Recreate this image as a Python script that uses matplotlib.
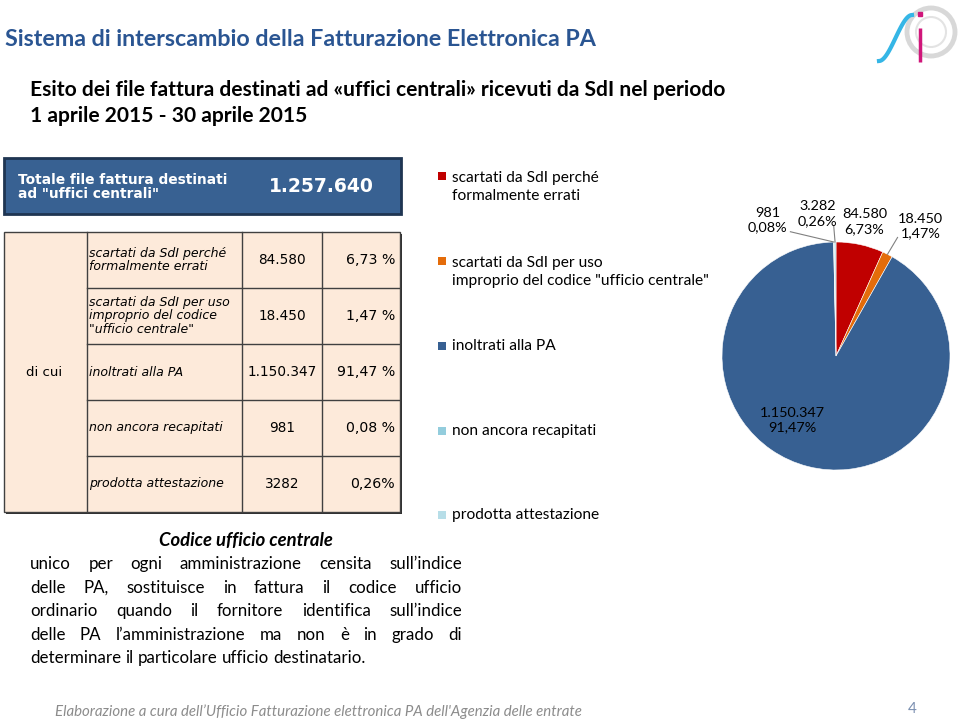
import numpy as np
import matplotlib
matplotlib.use('agg')
import matplotlib.pyplot as plt
from matplotlib.patches import Rectangle, Circle

# data
categories = ['scartati da SdI perché\nformalmente errati',
              'scartati da SdI per uso\nimproprio del codice "ufficio centrale"',
              'inoltrati alla PA',
              'non ancora recapitati',
              'prodotta attestazione']
row_labels = ['scartati da SdI perché\nformalmente errati',
              'scartati da SdI per uso\nimproprio del codice\n"ufficio centrale"',
              'inoltrati alla PA',
              'non ancora recapitati',
              'prodotta attestazione']
counts = [84580, 18450, 1150347, 981, 3282]
total = 1257640
table_counts = ['84.580', '18.450', '1.150.347', '981', '3282']
table_pct = ['6,73 %', '1,47 %', '91,47 %', '0,08 %', '0,26%']
colors = ['#C00000', '#E46C0A', '#376092', '#93CDDD', '#B7DEE8']

paragraph = ["unico per ogni amministrazione censita sull\u2019indice",
             "delle PA, sostituisce in fattura il codice ufficio",
             "ordinario quando il fornitore identifica sull\u2019indice",
             "delle PA l\u2019amministrazione ma non è in grado di",
             "determinare il particolare ufficio destinatario."]

SANS = ['Lato', 'DejaVu Sans']
TAB = ['DejaVu Sans']

fig = plt.figure(figsize=(9.59, 7.22), dpi=100)
ax = fig.add_axes([0, 0, 1, 1])
ax.set_xlim(0, 959)
ax.set_ylim(722, 0)
ax.axis('off')
renderer = fig.canvas.get_renderer()


def fit(t, width):
    # scale font so the text gets the wanted pixel width
    w = t.get_window_extent(renderer).width
    t.set_fontsize(t.get_fontsize() * width / w)


# titles
t = ax.text(5, 40, 'Sistema di interscambio della Fatturazione Elettronica PA', family=SANS,
            fontweight='bold', color='#2A5592', fontsize=16, va='center')
fit(t, 593)
t = ax.text(30, 90, 'Esito dei file fattura destinati ad «uffici centrali» ricevuti da SdI nel periodo',
            family=SANS, fontweight='bold', color='black', fontsize=14, va='center')
fit(t, 697)
ax.text(30, 116, '1 aprile 2015 - 30 aprile 2015', family=SANS, fontweight='bold',
        color='black', fontsize=t.get_fontsize(), va='center')

# header box
ax.add_patch(Rectangle((4, 158), 397, 56, facecolor='#386192', edgecolor='#1F3552', lw=2))
t = ax.text(18, 187, 'Totale file fattura destinati\nad "uffici centrali"', family=TAB, fontweight='bold',
            color='white', fontsize=9.9, va='center', linespacing=1.0)
ax.text(321, 187, f'{total:,}'.replace(',', '.'), family=TAB, fontweight='bold', color='white',
        fontsize=13.5, ha='center', va='center')

# table
x_cols = [4, 87, 242, 322, 400]
y_top, row_h = 232, 56
n = len(row_labels)
y_bot = y_top + n * row_h
ax.add_patch(Rectangle((5.5, y_top + 1.5), 396, n * row_h, facecolor='#303030', edgecolor='none'))
ax.add_patch(Rectangle((4, y_top), 396, n * row_h, facecolor='#FDEADA', edgecolor='#404040', lw=1))
for xc in x_cols[1:-1]:
    ax.plot([xc, xc], [y_top, y_bot], color='#404040', lw=1)
for i in range(1, n):
    ax.plot([x_cols[1], x_cols[-1]], [y_top + i * row_h] * 2, color='#404040', lw=1)
ax.text((x_cols[0] + x_cols[1]) / 2 - 1, y_top + 2.5 * row_h, 'di cui', family=TAB, fontsize=9.6,
        ha='center', va='center')
for i in range(n):
    yc = y_top + (i + 0.5) * row_h
    ax.text(x_cols[1] + 2, yc, row_labels[i], family=TAB, style='italic', fontsize=9,
            ha='left', va='center', linespacing=1.02)
    ax.text((x_cols[2] + x_cols[3]) / 2, yc, table_counts[i], family=TAB, fontsize=9.8,
            ha='center', va='center')
    ax.text(x_cols[4] - 5, yc, table_pct[i], family=TAB, fontsize=10.2, ha='right', va='center')

# legend
leg_y = [187, 272, 346, 431, 515]
for i in range(n):
    ax.add_patch(Rectangle((438, leg_y[i] - 15 if '\n' in categories[i] else leg_y[i] - 4), 8, 8,
                           facecolor=colors[i], edgecolor='none'))
    ax.text(452, leg_y[i], categories[i], family=SANS, fontsize=11.2, ha='left', va='center',
            linespacing=1.4)

# paragraph
t = ax.text(246, 540, 'Codice ufficio centrale', family=SANS, fontweight='bold', style='italic',
            fontsize=12, ha='center', va='center')
fit(t, 174)
x0, x1 = 30, 462
line_y = [564, 588, 611, 635, 658]
for j, line in enumerate(paragraph):
    words = line.split(' ')
    ts = [ax.text(0, line_y[j], w, family=SANS, fontsize=12.2, va='center') for w in words]
    widths = [tt.get_window_extent(renderer).width for tt in ts]
    gap = (x1 - x0 - sum(widths)) / (len(words) - 1) if j < len(paragraph) - 1 else 4.2
    x = x0
    for tt, w in zip(ts, widths):
        tt.set_x(x)
        x += w + gap

# footer
t = ax.text(55, 712, 'Elaborazione a cura dell\u2019Ufficio Fatturazione elettronica PA dell\'Agenzia delle entrate',
            family=SANS, style='italic', color='#8C8C8C', fontsize=11, va='center')
fit(t, 527)
ax.text(912, 709, '4', family=SANS, color='#7A8FB0', fontsize=11, ha='center', va='center')

# logo
ax.add_patch(Circle((931, 32), 24, facecolor='none', edgecolor='#CFCFCF', lw=3.5, alpha=0.8))
ax.add_patch(Circle((931, 32), 15, facecolor='none', edgecolor='#DCDCDC', lw=1.5, alpha=0.8))
ss = np.linspace(0, 1, 40)
ax.plot(879 + 33 * ss, 61 - 46 * (3 * ss ** 2 - 2 * ss ** 3), color='#35B6E6', lw=3)
ax.plot([920, 920], [28, 62], color='#D0167A', lw=2.5, solid_capstyle='butt')
ax.plot([919.5], [14], 's', color='#D0167A', ms=3)

# pie
cx, cy, r = 836, 356, 114
pax = fig.add_axes([(cx - r) / 959, 1 - (cy + r) / 722, 2 * r / 959, 2 * r / 722])
wedges, _ = pax.pie(counts, colors=colors, startangle=90, counterclock=False,
                    wedgeprops=dict(edgecolor='white', linewidth=0.4))
pax.set_xlim(-1, 1)
pax.set_ylim(-1, 1)
pax.set_aspect('equal')
pax.axis('off')

label_pos = [(0.25, 1.18), (0.74, 1.14), (-0.38, -0.56), (-0.60, 1.19), (-0.16, 1.25)]
leader = [False, True, False, True, True]
for i, wdg in enumerate(wedges):
    txt = f'{counts[i]:,}'.replace(',', '.') + '\n' + f'{counts[i] / total * 100:.2f}%'.replace('.', ',')
    ang = np.deg2rad((wdg.theta1 + wdg.theta2) / 2)
    tip = (np.cos(ang), np.sin(ang))
    if leader[i]:
        lx, ly = label_pos[i]
        if i == 3:
            start = (lx + 0.2, ly - 0.1)
        elif i == 4:
            start = (lx + 0.14, ly - 0.11)
        else:
            start = (lx - 0.2, ly - 0.1)
        pax.plot([start[0], tip[0]], [start[1], tip[1]], color='#808080', lw=0.8, clip_on=False)
    pax.text(label_pos[i][0], label_pos[i][1], txt, family=SANS, fontsize=10.4, ha='center',
             va='center', linespacing=1.25, clip_on=False)

fig.savefig('out.png', dpi=100)
